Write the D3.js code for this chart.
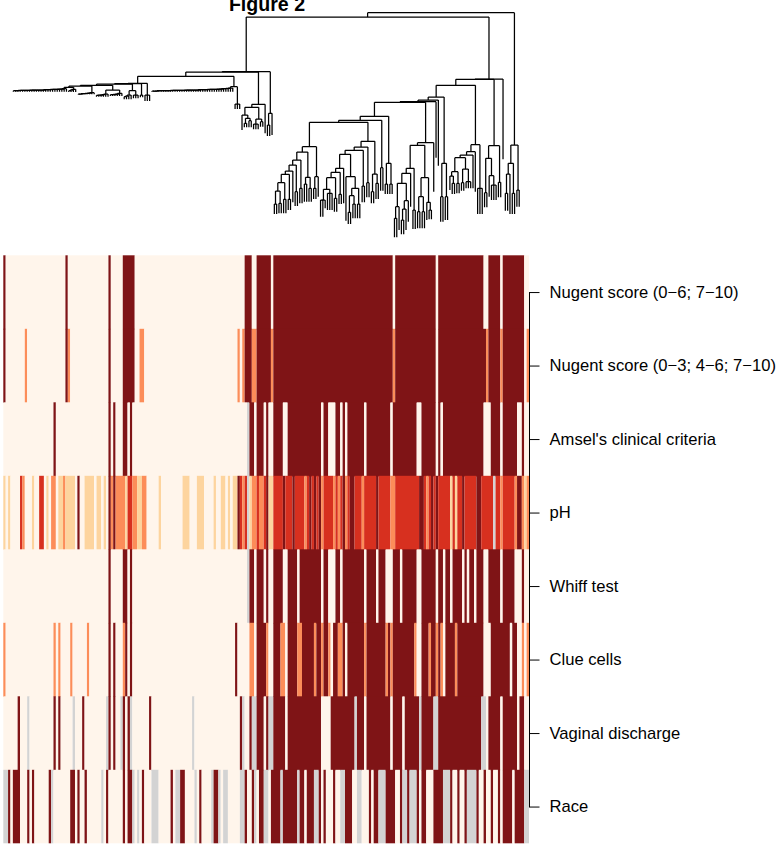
<!DOCTYPE html>
<html>
<head>
<meta charset="utf-8">
<script src="https://cdn.jsdelivr.net/npm/d3@7/dist/d3.min.js"></script>
<style>
html,body{margin:0;padding:0;background:#fff;overflow:hidden}
svg{display:block}
text{font-family:"Liberation Sans",Arial,Helvetica,sans-serif}
</style>
</head>
<body>
<svg id="chart" width="780" height="847"></svg>
<script>
// ---------- categories ----------
const title = "Figure 2";
const rowLabels = [
  "Nugent score (0\u22126; 7\u221210)",
  "Nugent score (0\u22123; 4\u22126; 7\u221210)",
  "Amsel's clinical criteria",
  "pH",
  "Whiff test",
  "Clue cells",
  "Vaginal discharge",
  "Race"
];
const columnCount = 220;
// value levels: 0 cream, 1 pale, 2 orange, 3 red, 4 dark, 5 missing
const levelColors = ["#FFF5EB", "#FDD49E", "#FC8D59", "#D7301F", "#7F1416", "#D3D3D3"];

// ---------- heat map values: [first column, last column, level]; others are level 0 ----------
const nugentBinary = [[0,0,4],[26,26,4],[44,44,4],[50,54,4],[101,103,4],[106,111,4],[113,162,4],[164,180,4],[182,200,4],[203,207,4],[209,217,4]];
const nugentThree = [[0,0,4],[9,9,2],[26,26,4],[27,27,2],[44,44,4],[50,54,4],[57,58,2],[98,98,2],[100,100,2],[101,103,4],[104,105,2],[106,111,4],[112,112,2],[113,162,4],[163,163,2],[164,180,4],[182,201,4],[202,202,2],[203,207,4],[208,208,2],[209,217,4],[219,219,2]];
const amsel = [[21,21,4],[44,44,4],[46,46,4],[50,51,4],[53,53,4],[102,102,5],[103,104,4],[106,108,4],[110,110,4],[113,116,4],[119,132,4],[134,135,4],[139,140,4],[142,142,4],[144,150,4],[152,161,4],[163,172,4],[175,180,4],[182,182,4],[184,200,4],[204,207,4],[209,214,4],[217,217,4]];
const pH = [[0,0,1],[2,2,1],[7,7,3],[8,8,2],[12,12,1],[15,16,3],[18,18,1],[20,21,2],[23,24,1],[25,25,2],[26,29,1],[31,31,4],[34,37,1],[39,40,1],[42,42,1],[44,44,4],[45,45,2],[46,46,4],[47,50,2],[51,51,1],[52,53,3],[54,55,2],[56,57,1],[58,59,2],[65,65,1],[75,77,1],[81,83,1],[88,88,1],[91,92,1],[94,94,1],[96,97,1],[98,98,4],[99,99,3],[100,100,2],[101,101,3],[102,102,5],[103,103,1],[104,105,2],[106,106,3],[107,108,2],[109,109,3],[110,110,4],[111,112,1],[113,116,3],[117,117,4],[118,120,3],[121,121,4],[122,125,3],[126,126,2],[127,127,3],[128,128,4],[129,129,3],[130,130,4],[131,131,3],[132,132,4],[133,133,2],[134,137,3],[138,138,2],[139,139,3],[140,140,2],[141,141,3],[142,142,4],[143,143,2],[144,144,3],[145,146,4],[147,149,3],[150,150,2],[151,155,3],[156,156,4],[157,161,3],[162,163,2],[164,173,3],[174,175,4],[176,176,3],[177,177,2],[178,178,3],[179,179,4],[180,180,3],[181,181,4],[182,186,3],[187,187,1],[188,188,3],[189,189,1],[190,191,3],[192,192,4],[193,197,3],[198,199,4],[200,204,3],[205,205,5],[206,207,3],[208,208,2],[209,213,3],[214,214,2],[215,216,4],[217,217,2],[218,218,1],[219,219,2]];
const whiff = [[44,44,4],[50,51,4],[53,53,4],[102,102,5],[103,104,4],[106,108,4],[110,110,4],[113,116,4],[119,122,4],[124,132,4],[134,135,4],[139,140,4],[142,150,4],[152,155,4],[157,159,4],[163,165,4],[167,172,4],[175,180,4],[182,183,4],[185,186,4],[188,191,4],[193,193,4],[195,196,4],[198,200,4],[203,207,4],[209,213,4],[217,217,4]];
const clue = [[0,0,2],[21,21,2],[23,23,2],[28,28,2],[35,35,2],[44,44,4],[46,46,4],[50,50,2],[51,51,4],[53,53,4],[97,97,4],[103,104,2],[106,109,4],[110,110,2],[113,115,4],[116,117,2],[119,122,4],[123,124,2],[125,129,4],[130,130,2],[131,132,4],[133,133,2],[134,135,4],[136,136,2],[138,139,4],[140,141,2],[142,142,4],[144,150,4],[151,151,2],[152,159,4],[160,160,2],[161,161,4],[162,162,2],[163,171,4],[172,172,2],[175,177,4],[178,178,2],[179,180,4],[181,181,2],[182,182,4],[183,183,2],[185,188,4],[189,189,2],[190,200,4],[204,211,4],[213,214,4],[217,217,2],[219,219,2]];
const discharge = [[6,6,4],[10,10,5],[21,21,4],[23,23,4],[29,29,5],[33,33,4],[43,43,5],[44,44,4],[46,46,4],[49,49,5],[50,50,4],[52,52,4],[53,53,5],[61,61,4],[79,79,5],[99,99,4],[100,100,5],[103,103,4],[104,105,5],[106,108,4],[110,110,4],[111,112,5],[113,117,4],[119,132,4],[137,146,4],[147,147,5],[148,150,4],[152,161,4],[163,166,4],[168,173,4],[174,174,5],[175,179,4],[180,181,5],[182,199,4],[200,201,5],[203,207,4],[209,214,4],[216,217,4]];
const race = [[0,1,5],[2,2,4],[4,6,4],[10,10,4],[12,12,4],[19,19,4],[20,20,5],[28,29,4],[31,31,4],[34,34,4],[41,41,5],[43,43,4],[50,50,4],[52,53,4],[54,54,5],[56,56,5],[58,58,4],[62,64,5],[70,70,4],[72,73,5],[74,75,4],[80,80,5],[82,82,4],[87,87,5],[88,89,4],[90,90,5],[92,93,5],[99,100,5],[101,101,4],[104,104,4],[105,105,5],[107,108,4],[109,110,5],[112,115,4],[116,116,5],[117,122,4],[123,123,5],[124,125,4],[127,129,4],[130,131,5],[132,132,4],[134,134,4],[138,138,4],[141,142,5],[143,145,4],[148,149,5],[153,153,4],[155,156,4],[157,159,5],[160,163,4],[166,166,4],[167,168,5],[169,169,4],[170,172,5],[173,173,4],[175,176,4],[180,183,4],[184,186,5],[187,187,4],[190,190,4],[193,193,4],[194,197,5],[198,198,4],[201,201,4],[204,204,4],[207,207,4],[209,212,4],[214,217,4],[218,219,5]];
const rowValues = [nugentBinary, nugentThree, amsel, pH, whiff, clue, discharge, race];

// ---------- dendrogram: merge heights ----------
const L = h => ({h});                                  // a leaf and the height it hangs to
const P = (n, t, b) => ({h: t, kids: Array.from({length: n}, () => L(b))}); // n leaves tied at one height
const N = (h, ...kids) => ({h, kids});                 // a merge
const ladder = (merges, b) => merges.reduce((acc, h) => N(h, acc, L(b)), L(b)); // leaves added one by one

const flatA = [478,478,478,479,479,479,479,479,480,480,480,480,480,480,481,481,481,482,482,482,483,483,484];
const flatB = [478,480,482];
const flatC = [468,468,469,469,470,471,472];
const flatD = [464,465,465,466,468];
const flatE = [466,466,467,468,470];
const flatF = [460,462,465];
const flatG = [477,477,477,478,478,478,478,478,478,479,479,479,479,479,479,480,480,480,480,480,480,481,481,481,481,482,482,482,482,483,483,484,484,485,486];

const leftTree = (() => {
  const n1 = N(488, ladder(flatA, 475), ladder(flatB, 474));
  const n2 = N(492, n1, ladder(flatC, 467));
  const n3 = N(480, ladder(flatD, 460), ladder(flatE, 462));
  const n4 = N(494, n2, n3);
  const n5 = N(478, ladder(flatF, 452), P(3, 465, 455));
  const n6 = N(498, n4, n5);
  const n7 = N(499, n6, P(2, 465, 458));
  const E1 = N(500, n7, P(3, 465, 447));
  const E2 = N(490, ladder(flatG, 475), P(3, 438, 423));
  const E = N(521, E1, E2);
  const F1a = N(405, L(360), N(395, P(2, 380, 368), P(2, 388, 368)));
  const F1b = N(393, P(3, 378, 362), P(2, 385, 370));
  const F = N(437, N(428, F1a, F1b), L(350));
  const G = N(410, P(2, 375, 342), L(345));
  return N(535, N(534, E, F), G);
})();

const middleTree = (() => {
  const a1 = N(177, P(2,138,108), P(2,140,110));
  const a2 = N(202, a1, P(2,152,110));
  const a3 = N(227, a2, P(2,152,120));
  const a4 = N(237, a3, L(143));
  const a5 = N(255, a4, P(2,175,132));
  const a6 = N(270, a5, P(2,185,140));
  const a7 = N(294, a6, N(218, P(2,198,145), P(2,185,145)));
  const D14 = N(310, a7, N(220, P(2,185,153), L(160)));
  const b1 = N(150, P(2,150,100), L(125));
  const b2 = N(182, b1, P(3,170,120));
  const b3 = N(217, b2, P(2,155,115));
  const b4 = N(233, b3, P(2,167,138));
  const b5 = N(245, b4, L(140));
  const c1 = N(163, P(2,113,78), P(2,138,95));
  const c2 = N(185, c1, P(2,138,95));
  const c3 = N(220, L(88), c2);
  const d1 = N(287, b5, c3);
  const d2 = N(299, d1, P(2,192,143));
  const d3 = N(309, d2, P(2,202,158));
  const e1 = N(228, P(2,175,140), P(2,200,153));
  const D15 = N(326, d3, e1);
  const D13 = N(383, D14, D15);
  const D12 = N(389, D13, P(2,247,178));
  const D10 = N(401, D12, N(260, P(2,198,168), P(2,198,168)));
  const q1 = N(130, P(2,95,38), L(60));
  const q2 = N(123, P(2,90,47), L(60));
  const q3 = N(148, q2, L(85));
  const q4 = N(200, q1, q3);
  const q5 = N(230, q4, L(130));
  const q6 = N(245, q5, P(2,120,63));
  const r1 = N(160, P(2,115,65), P(2,115,65));
  const r2 = N(143, L(90), P(2,120,92));
  const r3 = N(217, r1, r2);
  const D11 = N(322, N(314, q6, r3), L(175));
  const D9 = N(443, D10, D11);
  const D8 = N(445, D9, L(277));
  const D6 = N(450, D8, L(253));
  const D7 = N(260, P(2,160,85), P(2,160,90));
  const D4 = N(459, D6, D7);
  const R1 = N(235, N(222, L(180), P(2,200,168)), P(2,200,170));
  const R2 = N(243, P(2,202,178), P(3,205,185));
  const R3 = N(277, R1, R2);
  const R4 = N(285, R3, L(185));
  const R5 = N(295, R4, L(175));
  const D5 = N(316, R5, P(3,185,108));
  const D2 = N(494, D4, D5);
  const D3a = N(223, L(160), P(3,195,150));
  const D3b = N(275, P(2,172,128), D3a);
  const D3 = N(313, D3b, P(2,203,158));
  return N(513, N(512, D2, D3), L(272));
})();

const rightTree = N(315, N(260, N(228, P(2,170,118), L(108)), P(2,170,108)), P(2,180,130));
const treeRoot = N(712, N(699, leftTree, middleTree), rightTree);

// ---------- drawing ----------
const svg = d3.select("#chart");
const columns = d3.range(columnCount);

const xHeat = d3.scaleBand().domain(columns).range([3.3, 529]);
const yHeat = d3.scaleBand().domain(rowLabels).range([255.3, 843.3]);
const color = d3.scaleOrdinal().domain(d3.range(levelColors.length)).range(levelColors);

// expand the ranges to a value per column, then draw runs of equal values
function runsOf(ranges) {
  const cells = new Array(columnCount).fill(0);
  ranges.forEach(([a, b, v]) => { for (let i = a; i <= b; i++) cells[i] = v; });
  const runs = [];
  cells.forEach((v, i) => {
    const last = runs[runs.length - 1];
    if (last && last.v === v) last.n++;
    else runs.push({start: i, n: 1, v});
  });
  return runs;
}

// rows are painted in order; each one overlaps the next slightly so no seam shows
svg.append("g").selectAll("g")
  .data(rowLabels.map((label, i) => ({label, i, runs: runsOf(rowValues[i])})))
  .join("g")
  .attr("transform", d => `translate(0,${yHeat(d.label)})`)
  .each(function(d) {
    d3.select(this).selectAll("rect")
      .data(d.runs)
      .join("rect")
      .attr("x", r => xHeat(r.start))
      .attr("width", r => xHeat.step() * r.n)
      .attr("height", yHeat.bandwidth() + (d.i < rowLabels.length - 1 ? 0.7 : 0))
      .attr("fill", r => color(r.v));
  });

// right-hand axis
const yAxisScale = d3.scalePoint().domain(rowLabels)
  .range([yHeat(rowLabels[0]) + yHeat.bandwidth() / 2,
          yHeat(rowLabels[rowLabels.length - 1]) + yHeat.bandwidth() / 2]);
const axisG = svg.append("g")
  .attr("transform", "translate(529,0)")
  .call(d3.axisRight(yAxisScale).tickSize(10.5).tickSizeOuter(0).tickPadding(10));
axisG.selectAll("text").style("font-family", '"Liberation Sans",Arial,sans-serif').style("font-size", "16.6px").attr("fill", "#000");
axisG.selectAll("path,line").attr("stroke", "#000").attr("stroke-width", 1);

// dendrogram
const xTree = d3.scalePoint().domain(columns).range([13.33, 519.2]);
const yTree = d3.scaleLinear().domain([0, 750]).range([250, 0]);
const root = d3.hierarchy(treeRoot, d => d.kids);
root.leaves().forEach((leaf, i) => { leaf.x = xTree(i); });
root.eachAfter(n => {
  if (n.children) n.x = (n.children[0].x + n.children[n.children.length - 1].x) / 2;
});
const merges = root.descendants().filter(n => n.children);
svg.append("g").attr("fill", "none").attr("stroke", "#000").attr("stroke-width", 1.25)
  .selectAll("path")
  .data(merges)
  .join("path")
  .attr("d", n => {
    const y = yTree(n.data.h);
    const segs = n.children.map(c => `M${c.x},${y}V${yTree(c.data.h)}`).join("");
    return `M${n.children[0].x},${y}H${n.children[n.children.length - 1].x}` + segs;
  });

// title, cut by the top edge as in the reference
svg.append("text").attr("x", 267).attr("y", 10.5).attr("text-anchor", "middle")
  .attr("font-weight", "bold").attr("font-size", 19.6).attr("fill", "#000").text(title);
</script>
</body>
</html>
